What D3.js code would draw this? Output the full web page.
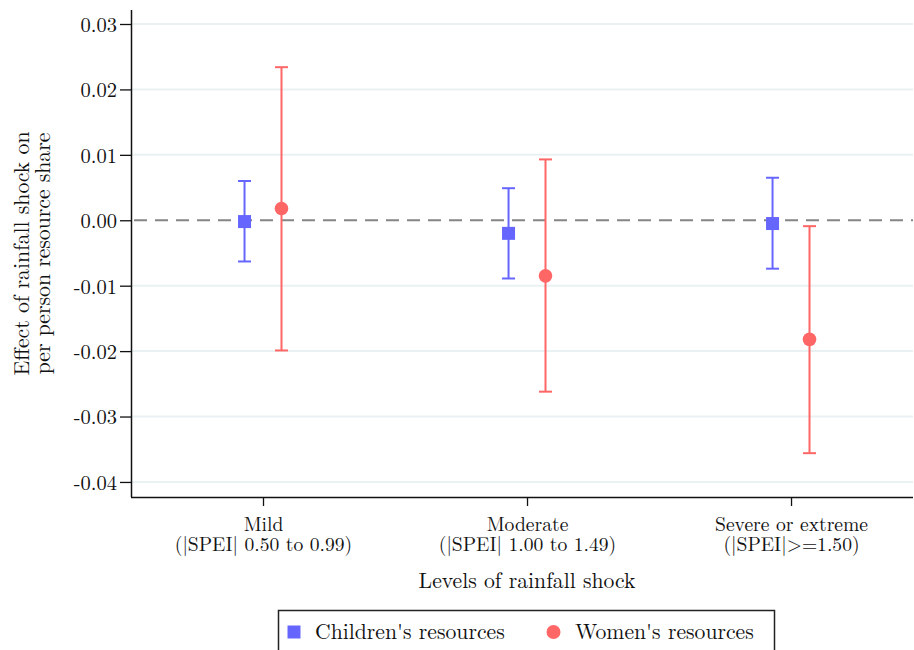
<!DOCTYPE html>
<html>
<head>
<meta charset="utf-8">
<script src="https://cdn.jsdelivr.net/npm/d3@7"></script>
<style>
  html, body { margin: 0; padding: 0; background: #fff; }
  svg { display: block; }
</style>
</head>
<body>
<svg id="chart" width="914" height="650"></svg>
<script>
// ---- data ----
const categories = ["Mild", "Moderate", "Severe or extreme"];
const categorySubLabels = ["(|SPEI| 0.50 to 0.99)", "(|SPEI| 1.00 to 1.49)", "(|SPEI|>=1.50)"];
const seriesNames = ["Children's resources", "Women's resources"];
const childrenEst = [-0.0002, -0.0020, -0.0005];
const childrenLow = [-0.0063, -0.0089, -0.0074];
const childrenHigh = [0.0060, 0.0049, 0.0065];
const womenEst = [0.0018, -0.0085, -0.0182];
const womenLow = [-0.0199, -0.0262, -0.0356];
const womenHigh = [0.0234, 0.0093, -0.0009];
const yTicks = [0.03, 0.02, 0.01, 0.00, -0.01, -0.02, -0.03, -0.04];

const colors = ["#6666ff", "#ff6666"];

(function () {
const FONT = '"Latin Modern Roman", "Liberation Serif", serif';
const svg = d3.select("#chart");
const pL = 131, pR = 913, pT = 10, pB = 497;

const x = d3.scaleLinear().domain([0.5, 3.462]).range([pL, pR]);
const y = d3.scaleLinear().domain([-0.0423, 0.03214]).range([pB, pT]);
const offset = 0.07;

// gridlines
svg.append("g").selectAll("line")
  .data(yTicks.filter(d => d !== 0))
  .join("line")
  .attr("x1", pL).attr("x2", pR)
  .attr("y1", d => y(d)).attr("y2", d => y(d))
  .attr("stroke", "#eaf1f3").attr("stroke-width", 2);

// zero line
svg.append("line")
  .attr("x1", pL).attr("x2", pR)
  .attr("y1", y(0)).attr("y2", y(0))
  .attr("stroke", "#858585").attr("stroke-width", 2)
  .attr("stroke-dasharray", "13,8").attr("stroke-dashoffset", -3);

// y axis
const yAxis = d3.axisLeft(y).tickValues(yTicks).tickFormat(d3.format(".2f")).tickSize(11).tickPadding(3);
const gy = svg.append("g").attr("transform", `translate(${pL},0)`).call(yAxis);
gy.select(".domain").attr("stroke", "#111").attr("stroke-width", 1.5).attr("d", `M0.5,${pT}V${pB}`);
gy.selectAll(".tick line").attr("stroke", "#111").attr("stroke-width", 1.3);
gy.selectAll(".tick text")
  .style("font-family", FONT).style("font-size", "20.5px")
  .attr("fill", "#111").attr("dy", "0.36em")
  .text(d => d3.format(".2f")(d).replace("\u2212", "-"));

// x axis
const xAxis = d3.axisBottom(x).tickValues([1, 2, 3]).tickSize(9).tickFormat("");
const gx = svg.append("g").attr("transform", `translate(0,${pB})`).call(xAxis);
gx.select(".domain").attr("stroke", "#111").attr("stroke-width", 1.5).attr("d", `M${pL},0.5H${pR}`);
gx.selectAll(".tick line").attr("stroke", "#111").attr("stroke-width", 1.3);
gx.selectAll(".tick").each(function(d, i) {
  const t = d3.select(this).append("text")
    .attr("text-anchor", "middle")
    .style("font-family", FONT).style("font-size", "19.6px")
    .attr("fill", "#111");
  t.append("tspan").attr("x", 0).attr("y", 34).text(categories[i]);
  t.append("tspan").attr("x", 0).attr("y", 53.5).text(categorySubLabels[i]);
});

// axis titles
svg.append("text")
  .attr("x", x(2)).attr("y", 588)
  .attr("text-anchor", "middle")
  .style("font-family", FONT).style("font-size", "21.7px").attr("fill", "#111")
  .text("Levels of rainfall shock");

const yt = svg.append("text")
  .attr("transform", `translate(28.5,${(pT + pB) / 2}) rotate(-90)`)
  .attr("text-anchor", "middle")
  .style("font-family", FONT).style("font-size", "21.7px").attr("fill", "#111");
yt.append("tspan").attr("x", 0).attr("y", 0).text("Effect of rainfall shock on");
yt.append("tspan").attr("x", 0).attr("y", 21.5).text("per person resource share");

// error bars + markers
const series = [
  { est: childrenEst, lo: childrenLow, hi: childrenHigh, dx: -offset, color: colors[0], shape: "square" },
  { est: womenEst, lo: womenLow, hi: womenHigh, dx: offset, color: colors[1], shape: "circle" }
];
const capW = 6.5;
series.forEach(s => {
  const g = svg.append("g");
  const pts = categories.map((c, i) => ({ xv: i + 1 + s.dx, est: s.est[i], lo: s.lo[i], hi: s.hi[i] }));
  g.append("g").selectAll("line").data(pts).join("line")
    .attr("x1", d => x(d.xv)).attr("x2", d => x(d.xv))
    .attr("y1", d => y(d.lo)).attr("y2", d => y(d.hi))
    .attr("stroke", s.color).attr("stroke-width", 2);
  ["lo", "hi"].forEach(k => {
    g.append("g").selectAll("line").data(pts).join("line")
      .attr("x1", d => x(d.xv) - capW).attr("x2", d => x(d.xv) + capW)
      .attr("y1", d => y(d[k])).attr("y2", d => y(d[k]))
      .attr("stroke", s.color).attr("stroke-width", 2);
  });
  if (s.shape === "square") {
    g.selectAll("rect").data(pts).join("rect")
      .attr("x", d => x(d.xv) - 6.5).attr("y", d => y(d.est) - 6.5)
      .attr("width", 13).attr("height", 13).attr("fill", s.color);
  } else {
    g.selectAll("circle").data(pts).join("circle")
      .attr("cx", d => x(d.xv)).attr("cy", d => y(d.est)).attr("r", 6.8)
      .attr("fill", s.color);
  }
});

// legend
const lg = svg.append("g");
lg.append("rect").attr("x", 278.5).attr("y", 610.5).attr("width", 496).attr("height", 50)
  .attr("fill", "#fff").attr("stroke", "#222").attr("stroke-width", 1.5);
lg.append("rect").attr("x", 287.5).attr("y", 625.5).attr("width", 13).attr("height", 13).attr("fill", colors[0]);
lg.append("text").attr("x", 315).attr("y", 638.5)
  .style("font-family", FONT).style("font-size", "21.7px").attr("fill", "#111")
  .text(seriesNames[0]);
lg.append("circle").attr("cx", 553.5).attr("cy", 632).attr("r", 7).attr("fill", colors[1]);
lg.append("text").attr("x", 575).attr("y", 638.5)
  .style("font-family", FONT).style("font-size", "21.7px").attr("fill", "#111")
  .text(seriesNames[1]);
})();
</script>
</body>
</html>
